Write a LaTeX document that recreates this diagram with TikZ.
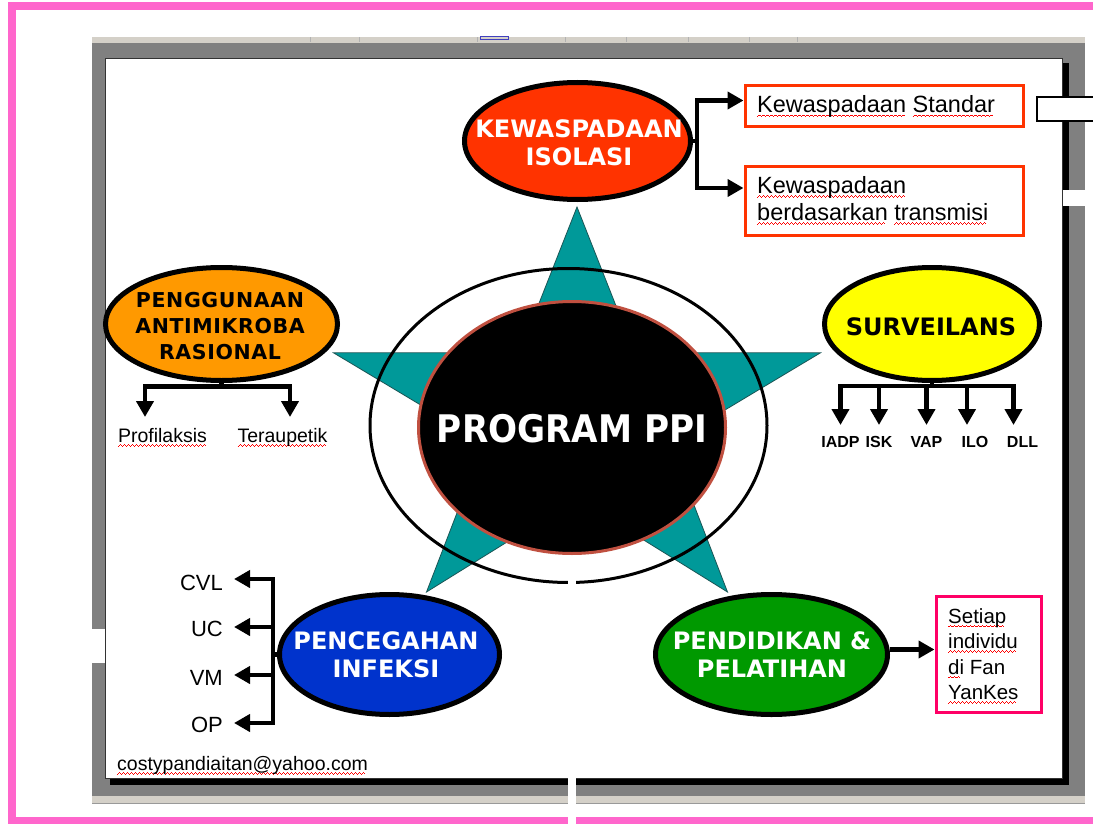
\documentclass[tikz,border=0pt]{standalone}
\usepackage{fontspec}
\setmainfont{Liberation Sans}
\newfontfamily\ppifont[FakeStretch=0.9]{DejaVu Sans}
\newfontfamily\headfont{DejaVu Sans}
\newfontfamily\headfontw[LetterSpace=3]{DejaVu Sans}
\usetikzlibrary{shapes.geometric,arrows.meta}
\newsavebox\sqbox
\newcommand\sqwave{\textcolor{red}{\rule[-4pt]{1pt}{0.6pt}\rule[-3.1pt]{1pt}{0.6pt}\rule[-2.2pt]{1pt}{0.6pt}\rule[-3.1pt]{1pt}{0.6pt}}}
\newcommand\sq[1]{\sbox\sqbox{#1}\rlap{\leaders\hbox{\sqwave}\hskip\wd\sqbox}\usebox\sqbox}
\definecolor{pinkframe}{HTML}{FF66CC}
\definecolor{tbgray}{HTML}{D4D0C8}
\definecolor{wingray}{HTML}{808080}
\definecolor{starteal}{HTML}{009999}
\definecolor{startealdark}{HTML}{1A5555}
\definecolor{kewred}{HTML}{FF3300}
\definecolor{pengorange}{HTML}{FF9900}
\definecolor{survyellow}{HTML}{FFFF00}
\definecolor{pencblue}{HTML}{0033CC}
\definecolor{pendgreen}{HTML}{009900}
\definecolor{boxred}{HTML}{FF3300}
\definecolor{boxpink}{HTML}{FF0066}
\definecolor{rimred}{HTML}{C05040}
\begin{document}
\begin{tikzpicture}[x=1pt,y=-1pt,
  bub/.style={ellipse, draw=black, line width=5pt, inner sep=0pt},
  ht/.style={font=\headfont\bfseries\fontsize{24}{28}\selectfont, align=center, inner sep=0pt},
  htw/.style={font=\headfontw\bfseries\fontsize{20.5}{26}\selectfont, align=center, inner sep=0pt},
  arr/.style={line width=4.5pt, -{Triangle[length=16pt,width=17pt]}},
  lbl/.style={font=\fontsize{19.5}{23}\selectfont, inner sep=0pt},
  lblb/.style={font=\bfseries\fontsize{16}{19}\selectfont, inner sep=0pt},
  lblc/.style={font=\fontsize{22}{26}\selectfont, inner sep=0pt},
  boxtxt/.style={font=\fontsize{23.5}{27}\selectfont, inner sep=0pt, align=left},
  redbox/.style={draw=boxred, line width=3pt, fill=white, inner sep=0pt}
]
\useasboundingbox (0,0) rectangle (1093,824);
\fill[white] (0,0) rectangle (1093,824);
% pink frame
\draw[pinkframe, line width=8pt] (12,6) rectangle (1120,821);
% window
\fill[tbgray] (92,37) rectangle (1085,43);
\foreach \t in {310,359,477,565,626,688,749,797}
  \draw[gray!60, line width=0.8pt] (\t,37.5) -- (\t,42.5);
\draw[blue!50!gray, line width=1pt] (480,37) rectangle (508,40);
\fill[wingray] (92,43) rectangle (1085,796);
\fill[tbgray] (92,796) rectangle (1085,803);
\draw[gray!80, line width=0.8pt] (92,803) -- (1085,803);
% slide
\fill[black] (110,63) rectangle (1069,785);
\filldraw[fill=white, draw=black!80, line width=1pt] (105.5,58.5) rectangle (1062,778);
% star
\filldraw[fill=starteal, draw=startealdark, line width=0.8pt]
  (577,207) -- (634.5,352.8) -- (820.5,352.8) -- (670,442.9) -- (727.5,592)
  -- (577,498.6) -- (426.5,592) -- (484,442.9) -- (333.5,352.8) -- (519.5,352.8) -- cycle;
% central ellipses
\node[ellipse, draw=black, line width=3pt, inner sep=0pt, minimum width=397pt, minimum height=314pt] (ring) at (568.5,425.5) {};
\node[ellipse, fill=black, draw=rimred, line width=3pt, inner sep=0pt, minimum width=307pt, minimum height=252pt] (core) at (572,427.5) {};
\node[font=\ppifont\bfseries\fontsize{38}{40}\selectfont, text=white, inner sep=0pt] (ppit) at (572,429) {PROGRAM PPI};
% satellite ellipses
\node[bub, fill=kewred, minimum width=226pt, minimum height=117pt] (kew) at (577.5,141) {};
\node[ht, text=white] (kewt) at (579,142.5) {KEWASPADAAN\\ISOLASI};
\node[bub, fill=pengorange, minimum width=232pt, minimum height=113pt] (peng) at (221.5,324) {};
\node[htw, text=black] (pengt) at (220,326.5) {PENGGUNAAN\\ANTIMIKROBA\\RASIONAL};
\node[bub, fill=survyellow, minimum width=215pt, minimum height=113pt] (surv) at (932,324) {};
\node[ht, text=black] (survt) at (931,326.5) {SURVEILANS};
\node[bub, fill=pencblue, minimum width=220pt, minimum height=120pt] (penc) at (389.5,654.5) {};
\node[ht, text=white] (penct) at (386,654.5) {PENCEGAHAN\\INFEKSI};
\node[bub, fill=pendgreen, minimum width=232pt, minimum height=120pt] (pend) at (771.5,654.5) {};
\node[ht, text=white] (pendt) at (772,654.5) {PENDIDIKAN \&\\PELATIHAN};
% Kewaspadaan boxes
\node[redbox, anchor=north west, minimum width=278pt, minimum height=41pt] (std) at (743.5,84.5) {};
\node[boxtxt, anchor=base west] (stdt) at (757,113) {\sq{Kewaspadaan} \sq{Standar}};
\node[redbox, anchor=north west, minimum width=278pt, minimum height=68pt] (trans) at (743.5,165.5) {};
\node[boxtxt, anchor=north west] (transt) at (757,176) {\sq{Kewaspadaan}\\\sq{berdasarkan} \sq{transmisi}};
\draw[arr] (kew.east) -- ++(4,0) |- ([yshift=6pt]std.west);
\draw[arr] (kew.east) -- ++(4,0) |- ([yshift=13pt]trans.west);
% Penggunaan branches
\node[lbl, anchor=north] (prof) at (162.5,428) {\sq{Profilaksis}};
\node[lbl, anchor=north] (ter) at (282.5,428) {\sq{Teraupetik}};
\draw[arr] (peng.south) -- ++(0,3.5) -| ([xshift=-17.5pt,yshift=11pt]prof.north);
\draw[arr] (peng.south) -- ++(0,3.5) -| ([xshift=7.5pt,yshift=11pt]ter.north);
% Surveilans branches
\node[lblb, anchor=north] (iadp) at (840.5,436) {IADP};
\node[lblb, anchor=north] (isk) at (879,436) {ISK};
\node[lblb, anchor=north] (vap) at (926.5,436) {VAP};
\node[lblb, anchor=north] (ilo) at (975,436) {ILO};
\node[lblb, anchor=north] (dll) at (1022.5,436) {DLL};
\draw[arr] (surv.south) -- ++(0,3) -| ([yshift=11pt]iadp.north);
\draw[arr] (surv.south) -- ++(0,3) -| ([yshift=11pt]isk.north);
\draw[arr] (surv.south) -- ++(0,3) -| ([yshift=11pt]vap.north);
\draw[arr] (surv.south) -- ++(0,3) -| ([xshift=-8pt,yshift=11pt]ilo.north);
\draw[arr] (surv.south) -- ++(0,3) -| ([xshift=-9pt,yshift=11pt]dll.north);
% Pencegahan branches
\node[lblc, anchor=east] (cvl) at (223,583) {CVL};
\node[lblc, anchor=east] (uc) at (223,628.5) {UC};
\node[lblc, anchor=east] (vm) at (223,677.5) {VM};
\node[lblc, anchor=east] (op) at (223,725) {OP};
\draw[arr] (penc.west) -- ++(-4,0) |- ([xshift=11pt,yshift=4pt]cvl.east);
\draw[arr] (penc.west) -- ++(-4,0) |- ([xshift=11pt,yshift=1.5pt]uc.east);
\draw[arr] (penc.west) -- ++(-4,0) |- ([xshift=11pt,yshift=2.5pt]vm.east);
\draw[arr] (penc.west) -- ++(-4,0) |- ([xshift=11pt,yshift=2pt]op.east);
% Pendidikan branch
\node[draw=boxpink, line width=3pt, fill=white, inner sep=0pt, anchor=north west, minimum width=105pt, minimum height=116pt] (setiap) at (934.5,594.5) {};
\node[font=\fontsize{20.5}{25.5}\selectfont, inner sep=0pt, align=left, anchor=north west] (setiapt) at (948,608) {\sq{Setiap}\\\sq{individu}\\\sq{di} Fan\\\sq{YanKes}};
\draw[arr] ([yshift=5pt]pend.east) -- ([yshift=5pt]pend.east -| setiap.west);
% email
\node[lbl, anchor=base west] (email) at (117,770.5) {\sq{costypandiaitan@yahoo.com}};
% screen-capture gaps and overlay box
\fill[white] (568,580) rectangle (576,830);
\fill[white] (88,629) rectangle (105,663);
\fill[white] (1063,190) rectangle (1093,206);
\filldraw[fill=white, draw=black, line width=2pt] (1037,97) rectangle (1110,121);
\end{tikzpicture}
\end{document}
